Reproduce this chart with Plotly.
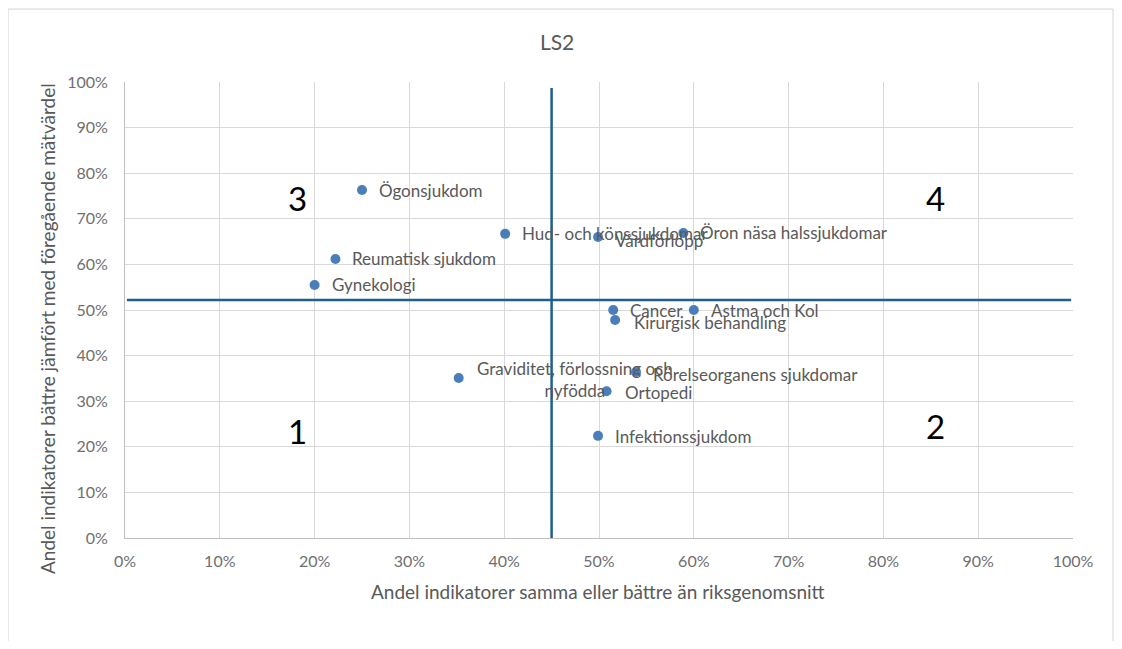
import plotly.graph_objects as go

names = ["Ögonsjukdom", "Hud- och könssjukdomar", "Vårdförlopp", "Öron näsa halssjukdomar",
         "Reumatisk sjukdom", "Gynekologi", "Cancer", "Kirurgisk behandling", "Astma och Kol",
         "Graviditet, förlossning och<br>nyfödda", "Rörelseorganens sjukdomar", "Ortopedi",
         "Infektionssjukdom"]
x_vals = [0.250, 0.401, 0.499, 0.589, 0.222, 0.200, 0.515, 0.517, 0.600, 0.352, 0.539, 0.508, 0.499]
y_vals = [0.763, 0.667, 0.660, 0.669, 0.612, 0.555, 0.500, 0.478, 0.500, 0.351, 0.364, 0.322, 0.224]
# label offsets in px (style)
label_dx = [15, 15, 15, 15, 15, 15, 15, 17, 15, 116, 15, 16, 15]
label_dy = [0, 0, -3, 0, 0, 0, 0, -2, 0, -2, -2, -1, -1]
label_anchor = ["left"] * 9 + ["center"] + ["left"] * 3

x_split = 0.45
y_split = 0.522
quadrants = ["3", "4", "1", "2"]
quad_x = [0.182, 0.855, 0.182, 0.855]
quad_y = [0.745, 0.745, 0.235, 0.245]

ticks = [i / 10 for i in range(11)]
tick_text = [f"{i*10}%" for i in range(11)]

x_title = "Andel indikatorer samma eller bättre än riksgenomsnitt"
y_title = "Andel indikatorer bättre jämfört med föregående mätvärdel"

font = "Lato, Carlito, Calibri, sans-serif"
gray = "#595959"

fig = go.Figure()
fig.add_trace(go.Scatter(x=x_vals, y=y_vals, mode="markers",
                         marker=dict(size=10, color="#4a7ebb"),
                         hoverinfo="skip", showlegend=False))

for n, x, y, dx, dy, a in zip(names, x_vals, y_vals, label_dx, label_dy, label_anchor):
    fig.add_annotation(x=x, y=y, text=n, showarrow=False, xanchor=a, yanchor="middle",
                       xshift=dx, yshift=dy, align="center",
                       font=dict(family=font, size=17, color=gray))

for q, qx, qy in zip(quadrants, quad_x, quad_y):
    fig.add_annotation(x=qx, y=qy, text=q, showarrow=False,
                       font=dict(family=font, size=33, color="black"))

line_color = "#1f5f8b"
fig.add_shape(type="line", x0=x_split, x1=x_split, y0=-0.053, y1=0.987,
              line=dict(color=line_color, width=2.5))
fig.add_shape(type="line", x0=0.002, x1=0.998, y0=y_split, y1=y_split,
              line=dict(color=line_color, width=2.5))

# chart border
fig.add_shape(type="rect", xref="paper", yref="paper",
              x0=-0.1234, x1=1.0422, y0=-0.30, y1=1.160,
              line=dict(color="#d4d4d4", width=1))

# axis titles
fig.add_annotation(text=x_title, xref="paper", yref="paper", x=0.4993, y=-0.1184,
                   xanchor="center", yanchor="middle", showarrow=False,
                   font=dict(family=font, size=19, color=gray))
fig.add_annotation(text=y_title, xref="paper", yref="paper", x=-0.0823, y=0.4605,
                   xanchor="center", yanchor="middle", showarrow=False, textangle=-90,
                   font=dict(family=font, size=19, color=gray))

axis_common = dict(range=[0, 1], tickvals=ticks, ticktext=tick_text,
                   showgrid=True, gridcolor="#d9d9d9", gridwidth=1,
                   zeroline=False, showline=True, linecolor="#bfbfbf", linewidth=1,
                   tickfont=dict(family=font, size=16, color="#6f6f6f"), mirror=False,
                   fixedrange=True, ticklen=0)

fig.update_layout(
    width=1106, height=633,
    margin=dict(l=117, r=41, t=74, b=103),
    paper_bgcolor="white", plot_bgcolor="white",
    title=dict(text="LS2", x=0.4965, xanchor="center", y=0.9447, yanchor="middle",
               font=dict(family=font, size=21, color=gray)),
    xaxis=dict(**axis_common, ticklabelstandoff=9),
    yaxis=dict(**axis_common, ticklabelstandoff=13),
)

fig.write_html("out.html")
